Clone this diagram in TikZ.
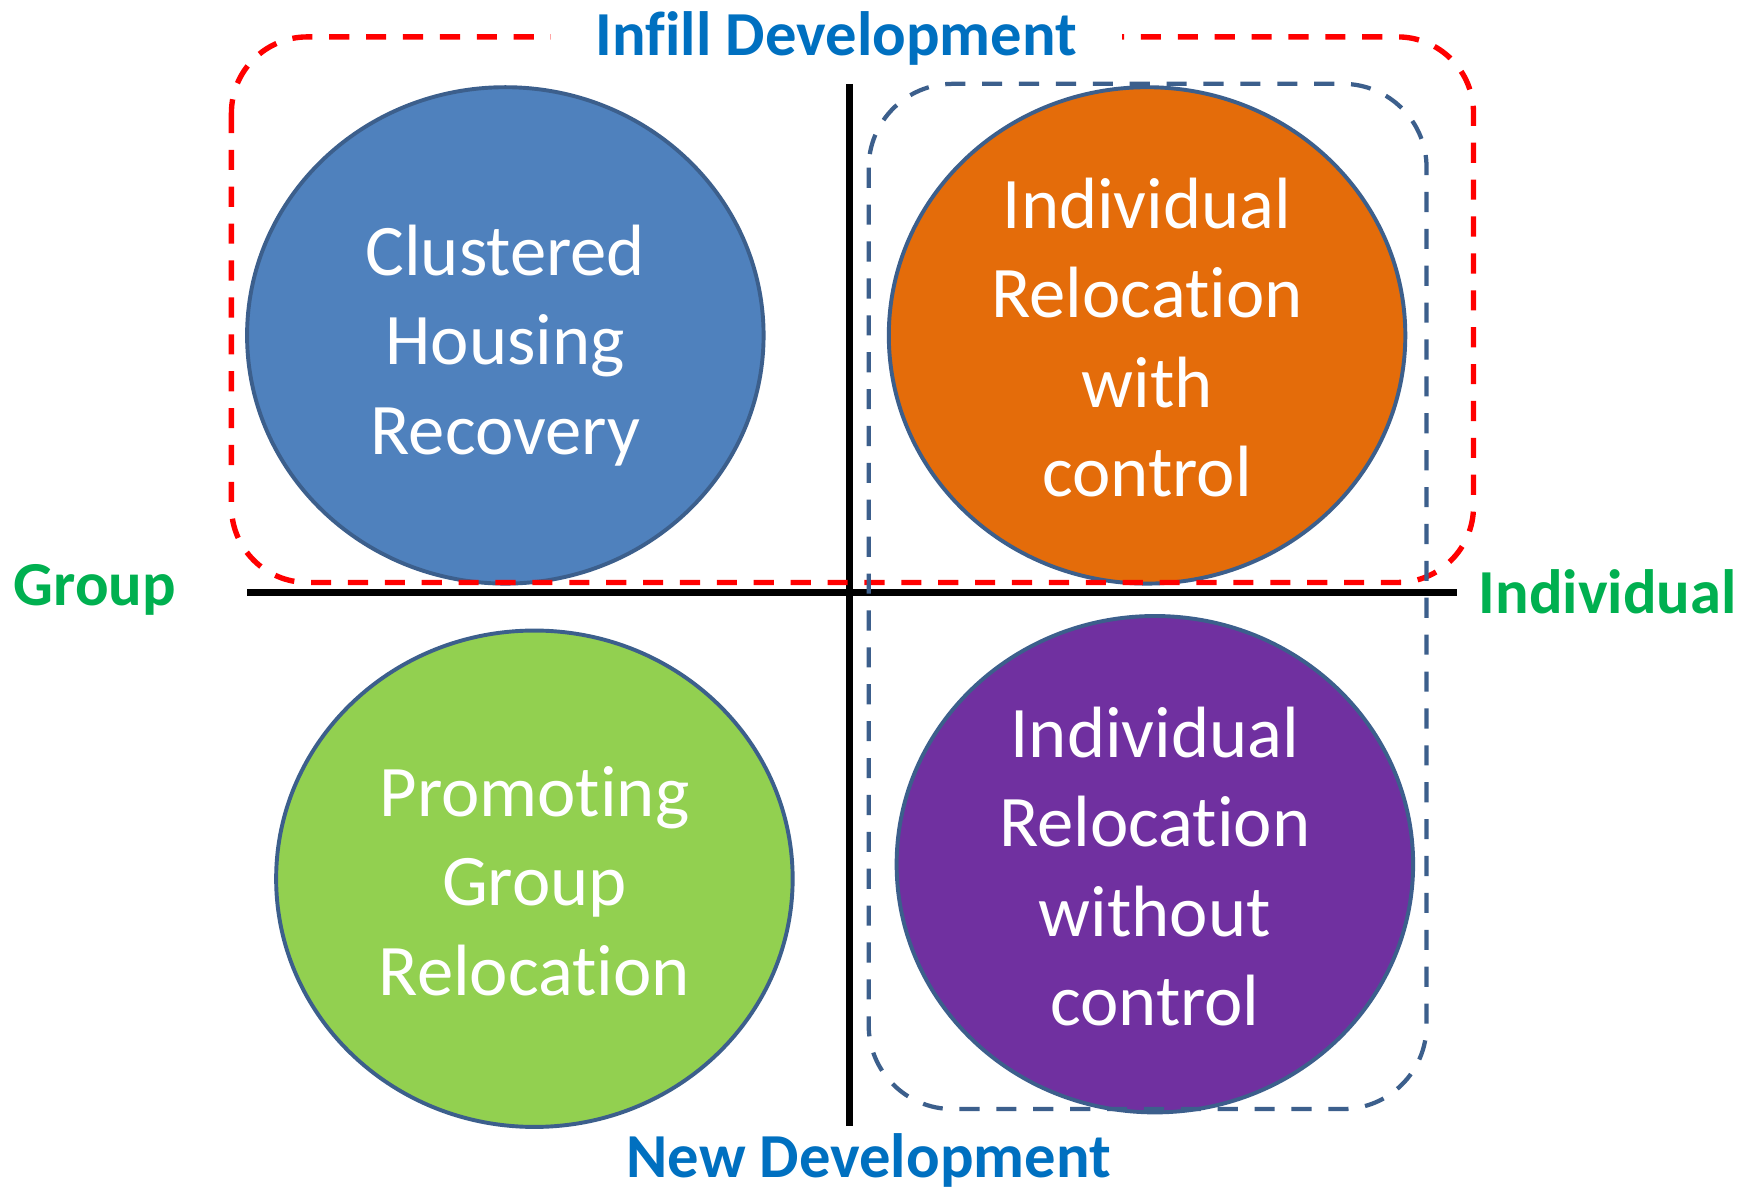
\documentclass[tikz,border=0pt]{standalone}
\usepackage{fontspec}
\setmainfont{Carlito}[RawFeature=-liga]
\usetikzlibrary{shapes.geometric}
\definecolor{cblue}{HTML}{4F81BD}
\definecolor{corange}{HTML}{E46C0A}
\definecolor{cgreen}{HTML}{92D050}
\definecolor{cpurple}{HTML}{7030A0}
\definecolor{cborder}{HTML}{3C5F8C}
\definecolor{tblue}{HTML}{0070C0}
\definecolor{tgreen}{HTML}{00B050}
\definecolor{cred}{HTML}{FF0000}
\tikzset{
  bubble/.style={ellipse, draw=cborder, line width=3.5pt, inner sep=0pt,
    minimum width=462pt, minimum height=444pt},
  bubbletext/.style={text=white, align=center, inner sep=0pt,
    font=\fontsize{65}{80}\selectfont},
  axislabel/.style={font=\fontsize{56}{67}\selectfont\bfseries, inner sep=0pt},
  axisline/.style={line width=6pt, black},
  reddash/.style={draw=cred, line width=4.8pt, dash pattern=on 18pt off 15pt},
  bluedash/.style={draw=cborder, line width=3.8pt, dash pattern=on 18pt off 15pt},
}
\begin{document}
\begin{tikzpicture}[x=1pt,y=-1pt]
\useasboundingbox (0,0) rectangle (1568,1062);
\fill[white] (0,0) rectangle (1568,1062);

% ellipses
\node[bubble, fill=cblue]   (e1) at (452,300) {};
\node[bubble, fill=corange] (e2) at (1026,300) {};
\node[bubble, fill=cgreen]  (e3) at (478,786) {};
\node[bubble, fill=cpurple] (e4) at (1033,773) {};

\node[bubbletext] (t1) at ([yshift=-9pt]e1.center) {Clustered\\Housing\\Recovery};
\node[bubbletext] (t2) at ([yshift=-2pt]e2.center) {Individual\\Relocation\\with\\control};
\node[bubbletext] (t3) at ([yshift=-2pt]e3.center) {Promoting\\Group\\Relocation};
\node[bubbletext] (t4) at ([yshift=-2pt]e4.center) {Individual\\Relocation\\without\\control};

% axes
\coordinate (hl) at (221,530);
\coordinate (hr) at (1303,530);
\coordinate (vt) at (760,75);
\coordinate (vb) at (760,1007);
\draw[axisline] (hl) -- (hr);
\draw[axisline] (vt) -- (vb);

% dashed groups
\draw[reddash, rounded corners=68pt] (207,33) rectangle (1318,521);
\draw[bluedash, rounded corners=75pt] (777,75) rectangle (1276,992);

% labels
\node[axislabel, text=tblue, fill=white, inner xsep=40pt, inner ysep=2pt, anchor=base] (infill) at (748,50) {Infill Development};
\node[axislabel, text=tblue, anchor=base] (newdev) at (777,1053) {New Development};
\node[axislabel, text=tgreen, anchor=base] (group) at (85,542) {Group};
\node[axislabel, text=tgreen, anchor=base] (indiv) at (1438,549) {Individual};
\end{tikzpicture}
\end{document}
